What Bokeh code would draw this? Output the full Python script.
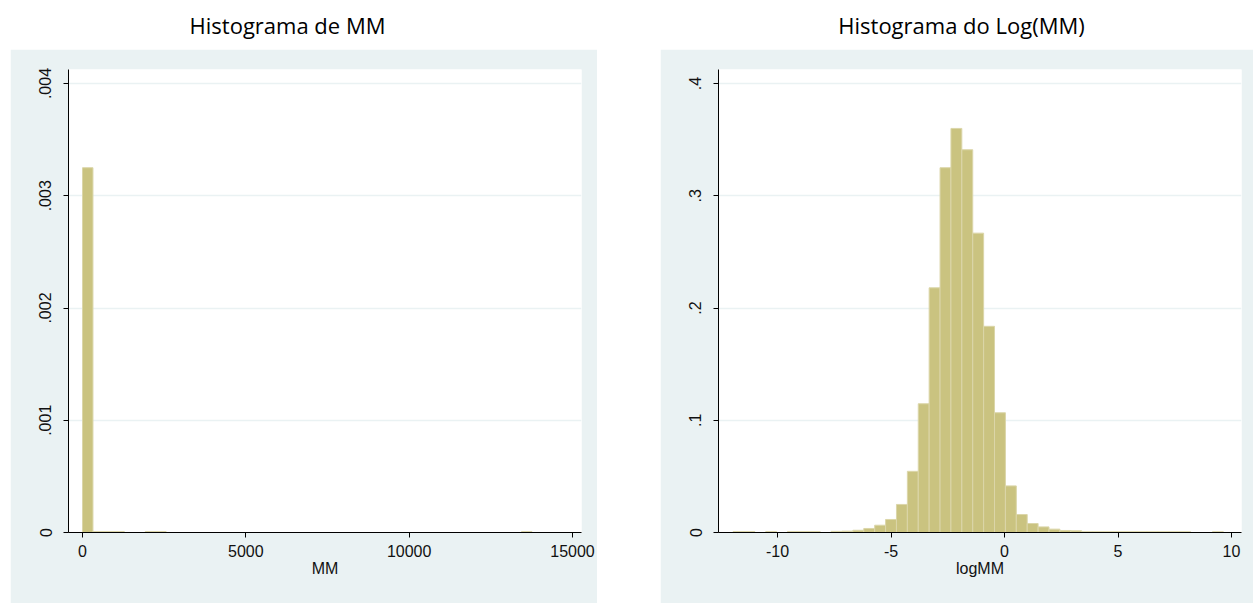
from bokeh.plotting import figure
from bokeh.models import Range1d, FixedTicker, Label, Spacer
from bokeh.layouts import row, column
from bokeh.embed import file_html
from bokeh.resources import INLINE

# ---------------- data ----------------
mm_bin_start = 0.0
mm_bin_width = 320.0
mm_density = [0.00325, 0.000008, 0.000008, 0.000008, 0, 0, 0.000008, 0.000008,
              0, 0, 0, 0, 0, 0, 0, 0, 0, 0, 0, 0, 0, 0,
              0, 0, 0, 0, 0, 0, 0, 0, 0, 0, 0, 0, 0, 0,
              0, 0, 0, 0, 0, 0, 0.000008, 0]

log_bin_start = -11.96
log_bin_width = 0.48
log_density = [0.0008, 0.0008, 0, 0.0008, 0, 0.0008, 0.0008, 0.0008, 0,
               0.001, 0.0012, 0.002, 0.0036, 0.0065, 0.0116, 0.025, 0.0545,
               0.1147, 0.218, 0.325, 0.36, 0.341, 0.2667, 0.1837, 0.1067,
               0.0415, 0.016, 0.008, 0.005, 0.003, 0.0018, 0.0015,
               0.0007, 0.0007, 0.0007, 0.0007, 0.0007, 0.0007, 0.0007, 0.0007,
               0.0007, 0.0007, 0, 0, 0.0007]

mm_xticks = [0, 5000, 10000, 15000]
mm_yticks = [0, 0.001, 0.002, 0.003, 0.004]
mm_ylabels = ["0", ".001", ".002", ".003", ".004"]
log_xticks = [-10, -5, 0, 5, 10]
log_yticks = [0, 0.1, 0.2, 0.3, 0.4]
log_ylabels = ["0", ".1", ".2", ".3", ".4"]

titles = ["Histograma de MM", "Histograma do Log(MM)"]
xlabels = ["MM", "logMM"]

# ---------------- style ----------------
PANEL = "#EAF2F3"
FILL = "#CAC380"
EDGE = "#DBD6A9"
TICK_FONT = "Arial, 'Liberation Sans', sans-serif"


def bars(start, width, dens):
    left, right, top = [], [], []
    for i, d in enumerate(dens):
        if d > 0:
            left.append(start + i * width)
            right.append(start + (i + 1) * width)
            top.append(d)
    return left, right, top


def make_panel(xr, yr, xticks, yticks, ylabels, xlabel, start, width, dens, fw, total_w):
    p = figure(frame_width=fw, frame_height=463, x_range=Range1d(*xr), y_range=Range1d(*yr),
               output_backend="svg", toolbar_location=None,
               min_border_left=58, min_border_right=total_w - 58 - fw,
               min_border_top=20, min_border_bottom=71)
    p.border_fill_color = PANEL
    p.background_fill_color = "white"
    p.outline_line_color = None
    p.xgrid.grid_line_color = None
    p.ygrid.grid_line_color = PANEL
    p.ygrid.grid_line_width = 1.5
    p.ygrid.ticker = FixedTicker(ticks=yticks[1:])

    l, r, t = bars(start, width, dens)
    p.quad(left=l, right=r, bottom=0, top=t, fill_color=FILL, line_color=EDGE, line_width=1)

    for ax in (p.xaxis[0], p.yaxis[0]):
        ax.axis_line_color = "black"
        ax.major_tick_line_color = "black"
        ax.major_tick_out = 5
        ax.major_tick_in = 0
        ax.minor_tick_line_color = None
        ax.major_label_text_font = TICK_FONT
        ax.major_label_text_font_size = "16px"
        ax.major_label_text_color = "#111111"
    p.xaxis.ticker = FixedTicker(ticks=xticks)
    p.xaxis.major_label_overrides = {v: str(v) for v in xticks}
    p.xaxis.major_label_standoff = 7
    p.xaxis.axis_label = xlabel
    p.xaxis.axis_label_text_font = TICK_FONT
    p.xaxis.axis_label_text_font_size = "16px"
    p.xaxis.axis_label_text_font_style = "normal"
    p.xaxis.axis_label_text_color = "#111111"
    p.xaxis.axis_label_standoff = 0

    p.yaxis.ticker = FixedTicker(ticks=yticks)
    p.yaxis.major_label_overrides = {v: s for v, s in zip(yticks, ylabels)}
    p.yaxis.major_label_orientation = "vertical"
    p.yaxis.major_label_standoff = 12
    return p


left = make_panel((-429, 15276), (0, 0.004125), mm_xticks, mm_yticks, mm_ylabels,
                  xlabels[0], mm_bin_start, mm_bin_width, mm_density, 513, 587)
right = make_panel((-12.6, 10.44), (0, 0.4125), log_xticks, log_yticks, log_ylabels,
                   xlabels[1], log_bin_start, log_bin_width, log_density, 523, 593)

# title strip
tp = figure(width=1253, height=49, x_range=Range1d(0, 1253), y_range=Range1d(0, 49),
            x_axis_type=None, y_axis_type=None, output_backend="svg", toolbar_location=None,
            min_border=0)
tp.outline_line_color = None
tp.xgrid.grid_line_color = None
tp.ygrid.grid_line_color = None
tp.border_fill_color = "white"
for tx, xc in zip(titles, [287, 961]):
    tp.add_layout(Label(x=xc, y=25, text=tx, text_align="center", text_baseline="middle",
                        text_font="Open Sans", text_font_size="22px", text_color="black"))

layout = column(tp, row(Spacer(width=10, height=554), left, Spacer(width=63, height=554), right))

with open("out.html", "w") as f:
    f.write(file_html(layout, INLINE))
